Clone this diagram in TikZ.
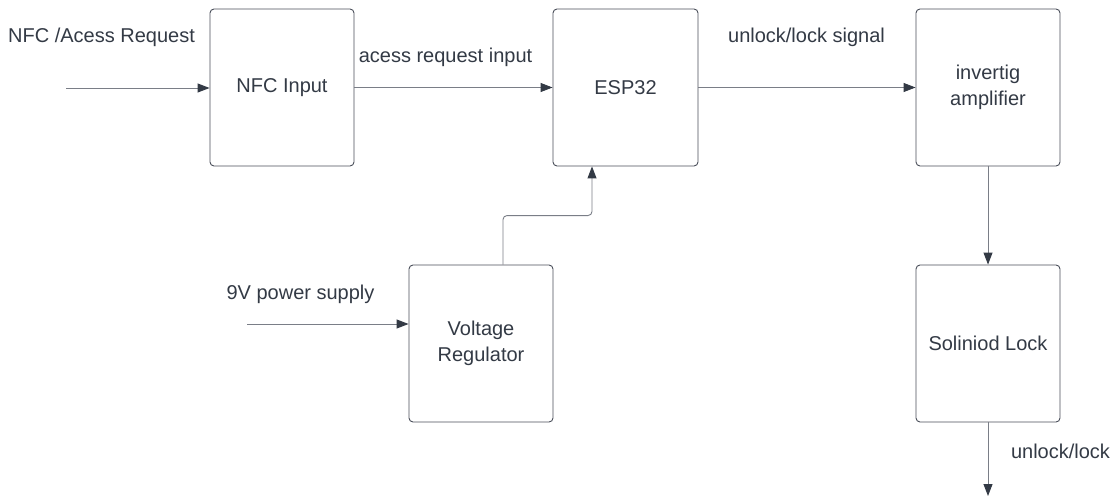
\documentclass[tikz,border=0pt]{standalone}
\usepackage{fontspec}
\setmainfont{Liberation Sans}
\usetikzlibrary{arrows.meta}
\definecolor{txt}{HTML}{333A45}
\definecolor{edge}{HTML}{4A4F5A}
\definecolor{ln}{HTML}{7A7E87}
\definecolor{tip}{HTML}{333A45}
\tikzset{
  x=1pt,y=-1pt,
  block/.style={draw=edge, line width=0.9pt, rounded corners=4pt, minimum width=144pt, minimum height=157pt, align=center, font=\fontsize{20}{26}\selectfont, text=txt, inner sep=0pt},
  lbl/.style={font=\fontsize{20}{26}\selectfont, text=txt, inner sep=0pt},
  conn/.style={draw=ln, line width=0.9pt, -{Triangle[length=12pt,width=9pt,fill=tip,color=tip]}}
}
\begin{document}
\begin{tikzpicture}
\useasboundingbox[fill=white] (0,0) rectangle (1113,497);
\node[block] (nfc) at (282,87.5) {NFC Input};
\node[block, minimum width=145pt] (esp) at (625.5,87.5) {ESP32};
\node[block] (amp) at (988,87.5) {invertig\\amplifier};
\node[block] (vr) at (481,343.5) {Voltage\\Regulator};
\node[block] (sol) at (988,343.5) {Soliniod Lock};

\coordinate (nfcin) at (66,88);
\coordinate (pwrin) at (247,324);
\coordinate (out) at (988,496);

\node[lbl] (l1) at (101.5,37) {NFC /Acess Request};
\node[lbl] (l2) at (445.5,57) {acess request input};
\node[lbl] (l3) at (806.5,37) {unlock/lock signal};
\node[lbl] (l4) at (300.5,294) {9V power supply};
\node[lbl] (l5) at (1060.5,451) {unlock/lock};

\draw[conn] (nfcin) -- (nfc.west |- nfcin);
\draw[conn] (nfc) -- (esp);
\draw[conn] (esp) -- (amp);
\draw[conn] (amp) -- (sol);
\draw[conn] (sol) -- (out);
\draw[conn] (pwrin) -- (vr.west |- pwrin);
\draw[conn, rounded corners=4pt] ([xshift=22pt]vr.north) -- ++(0,-49) -| ([xshift=-33.5pt]esp.south);
\end{tikzpicture}
\end{document}
